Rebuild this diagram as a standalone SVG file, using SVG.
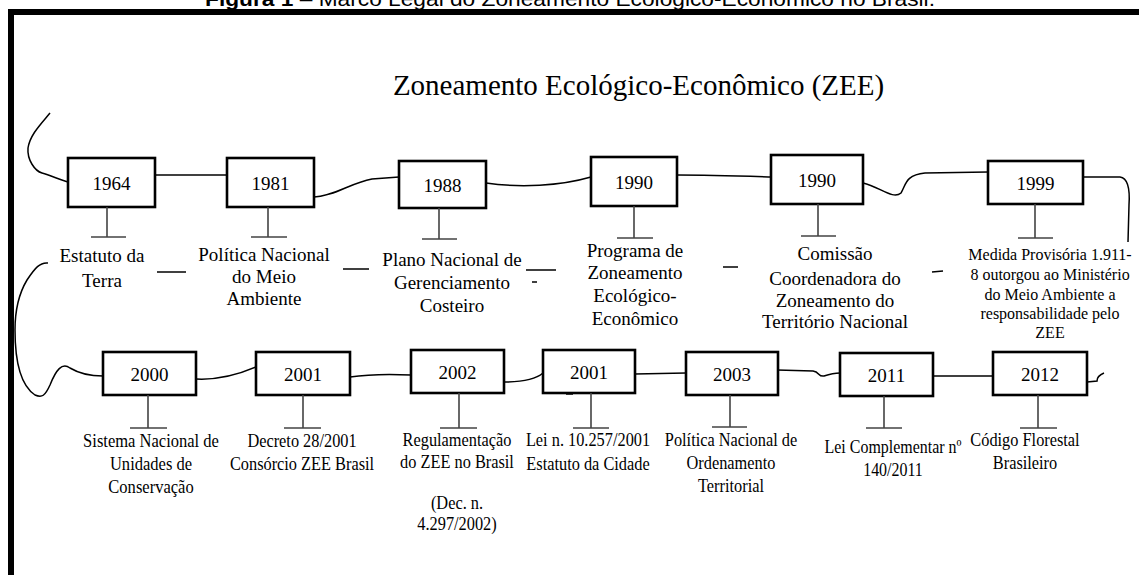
<svg xmlns="http://www.w3.org/2000/svg" width="1139" height="575" viewBox="0 0 1139 575">
<style>
.box{fill:#fff;stroke:#000;stroke-width:2.6}
.yr{font-size:19px;fill:#000;text-anchor:middle}
.stem{stroke:#444;stroke-width:1.6;fill:none}
.conn{stroke:#000;stroke-width:1.5;fill:none}
.lbl{font-size:19px;fill:#000;text-anchor:middle}
.lbs{font-size:16px;fill:#000;text-anchor:middle}
.lbc{font-size:19px;fill:#000;text-anchor:middle}
</style>
<rect width="1139" height="575" fill="#fff"/>
<text x="205" y="6" textLength="730" lengthAdjust="spacingAndGlyphs" font-family="Liberation Sans, Arial, sans-serif" font-size="20"><tspan font-weight="bold">Figura 1</tspan> – Marco Legal do Zoneamento Ecológico-Econômico no Brasil.</text>
<rect x="8" y="9" width="1131" height="6" fill="#000"/>
<rect x="8" y="9" width="6" height="566" fill="#000"/>
<g font-family="Liberation Serif, Times New Roman, serif">
<text x="638.5" y="95" font-size="29" text-anchor="middle">Zoneamento Ecológico-Econômico (ZEE)</text>

<g id="connectors">
<path class="conn" d="M50,113 C40,125 30,135 28,148 C27,160 35,171 42,173 C52,176 60,180 68,182"/>
<path class="conn" d="M155,175 L227,175"/>
<path class="conn" d="M314,197 C335,196 350,183 372,179 L399,177"/>
<path class="conn" d="M486,183 C520,188 560,186 591,177"/>
<path class="conn" d="M677,175 C710,175 740,176 771,177"/>
<path class="conn" d="M863,183 C880,187 893,200 901,193 C906,185 905,175 925,173 L988,172"/>
<path class="conn" d="M1083,177 L1120,177 C1128,178 1130,190 1129,205 L1128,242"/>
<path class="conn" d="M48,263 C40,262 35,268 27,280 C18,295 15,310 15,330 C15,360 20,385 35,395 C42,398 45,396 50,385 C56,370 62,362 70,368 C80,374 90,376 103,376"/>
<path class="conn" d="M196,379 C215,380 235,376 256,367"/>
<path class="conn" d="M350,377 C370,374 390,374 411,375"/>
<path class="conn" d="M504,382 C520,382 535,380 543,373"/>
<path class="conn" d="M635,374 L686,373"/>
<path class="conn" d="M777,370 L813,371 C820,372 818,377 824,376 C830,374 835,373 840,373"/>
<path class="conn" d="M933,376 L993,376"/>
<path class="conn" d="M1087,382 L1097,381 C1097,377 1099,375 1104,373"/>
<path class="conn" d="M157,272 L186,272"/>
<path class="conn" d="M343,269 L369,269"/>
<path class="conn" d="M526,270 L556,270"/>
<path class="conn" d="M532,282 L537,282"/>
<path class="conn" d="M723,267 L738,267"/>
<path class="conn" d="M932,272 L943,271"/>
<path class="conn" stroke-width="2" d="M566,394 L573,394"/>
</g>

<g id="n1964">
<rect class="box" x="68" y="158" width="87" height="49"/>
<text class="yr" x="111.5" y="189.5">1964</text>
<path class="stem" d="M107,207 V237 M91,237 H126"/>
<text class="lbl" x="102" y="262">Estatuto da</text>
<text class="lbl" x="102" y="287">Terra</text>
</g>
<g id="n1981">
<rect class="box" x="227" y="158" width="87" height="49"/>
<text class="yr" x="270.5" y="189.5">1981</text>
<path class="stem" d="M268,207 V237 M251,237 H287"/>
<text class="lbl" x="264" y="261">Política Nacional</text>
<text class="lbl" x="264" y="283">do Meio</text>
<text class="lbl" x="264" y="305">Ambiente</text>
</g>
<g id="n1988">
<rect class="box" x="399" y="161" width="87" height="47"/>
<text class="yr" x="442.5" y="191.5">1988</text>
<path class="stem" d="M439,208 V239 M422,239 H457"/>
<text class="lbl" x="452" y="266">Plano Nacional de</text>
<text class="lbl" x="452" y="289">Gerenciamento</text>
<text class="lbl" x="452" y="312">Costeiro</text>
</g>
<g id="n1990a">
<rect class="box" x="591" y="157" width="86" height="49"/>
<text class="yr" x="634" y="188.5">1990</text>
<path class="stem" d="M634,206 V238 M617,238 H653"/>
<text class="lbl" x="635" y="257">Programa de</text>
<text class="lbl" x="635" y="279">Zoneamento</text>
<text class="lbl" x="635" y="302">Ecológico-</text>
<text class="lbl" x="635" y="325">Econômico</text>
</g>
<g id="n1990b">
<rect class="box" x="771" y="155" width="92" height="49"/>
<text class="yr" x="817" y="186.5">1990</text>
<path class="stem" d="M818,204 V236 M801,236 H836"/>
<text class="lbl" x="835" y="260">Comissão</text>
<text class="lbl" x="835" y="285">Coordenadora do</text>
<text class="lbl" x="835" y="307">Zoneamento do</text>
<text class="lbl" x="835" y="328">Território Nacional</text>
</g>
<g id="n1999">
<rect class="box" x="988" y="161" width="95" height="43"/>
<text class="yr" x="1035.5" y="189.5">1999</text>
<path class="stem" d="M1035,204 V238 M1018,238 H1053"/>
<text class="lbs" x="1050" y="260">Medida Provisória 1.911-</text>
<text class="lbs" x="1050" y="280">8 outorgou ao Ministério</text>
<text class="lbs" x="1050" y="300">do Meio Ambiente a</text>
<text class="lbs" x="1050" y="319">responsabilidade pelo</text>
<text class="lbs" x="1050" y="338">ZEE</text>
</g>

<g id="n2000">
<rect class="box" x="103" y="352" width="93" height="43"/>
<text class="yr" x="149.5" y="380.5">2000</text>
<path class="stem" d="M148,395 V428 M130,428 H167"/>
<g transform="translate(151,0) scale(0.87,1)">
<text class="lbc" x="0" y="447">Sistema Nacional de</text>
<text class="lbc" x="0" y="470">Unidades de</text>
<text class="lbc" x="0" y="493">Conservação</text>
</g>
</g>
<g id="n2001a">
<rect class="box" x="256" y="352" width="94" height="43"/>
<text class="yr" x="303" y="380.5">2001</text>
<path class="stem" d="M303,395 V428 M284,428 H321"/>
<g transform="translate(302,0) scale(0.86,1)">
<text class="lbc" x="0" y="447">Decreto 28/2001</text>
<text class="lbc" x="0" y="470">Consórcio ZEE Brasil</text>
</g>
</g>
<g id="n2002">
<rect class="box" x="411" y="350" width="93" height="43"/>
<text class="yr" x="457.5" y="378.5">2002</text>
<path class="stem" d="M459,393 V428 M440,428 H477"/>
<g transform="translate(457,0) scale(0.86,1)">
<text class="lbc" x="0" y="446">Regulamentação</text>
<text class="lbc" x="0" y="468">do ZEE no Brasil</text>
<text class="lbc" x="0" y="509">(Dec. n.</text>
<text class="lbc" x="0" y="530">4.297/2002)</text>
</g>
</g>
<g id="n2001b">
<rect class="box" x="543" y="350" width="92" height="43"/>
<text class="yr" x="589" y="378.5">2001</text>
<path class="stem" d="M591,393 V428 M573,428 H609"/>
<g transform="translate(588,0) scale(0.86,1)">
<text class="lbc" x="0" y="446">Lei n. 10.257/2001</text>
<text class="lbc" x="0" y="470">Estatuto da Cidade</text>
</g>
</g>
<g id="n2003">
<rect class="box" x="686" y="352" width="92" height="43"/>
<text class="yr" x="732" y="380.5">2003</text>
<path class="stem" d="M730,395 V427 M712,427 H747"/>
<g transform="translate(731,0) scale(0.86,1)">
<text class="lbc" x="0" y="446">Política Nacional de</text>
<text class="lbc" x="0" y="469">Ordenamento</text>
<text class="lbc" x="0" y="492">Territorial</text>
</g>
</g>
<g id="n2011">
<rect class="box" x="840" y="353" width="93" height="43"/>
<text class="yr" x="886.5" y="381.5">2011</text>
<path class="stem" d="M884,396 V428 M866,428 H902"/>
<g transform="translate(893,0) scale(0.84,1)">
<text class="lbc" x="0" y="453">Lei Complementar nº</text>
<text class="lbc" x="0" y="476">140/2011</text>
</g>
</g>
<g id="n2012">
<rect class="box" x="993" y="352" width="94" height="43"/>
<text class="yr" x="1040" y="380.5">2012</text>
<path class="stem" d="M1038,395 V428 M1020,428 H1057"/>
<g transform="translate(1025,0) scale(0.86,1)">
<text class="lbc" x="0" y="446">Código Florestal</text>
<text class="lbc" x="0" y="469">Brasileiro</text>
</g>
</g>
</g>
</svg>
